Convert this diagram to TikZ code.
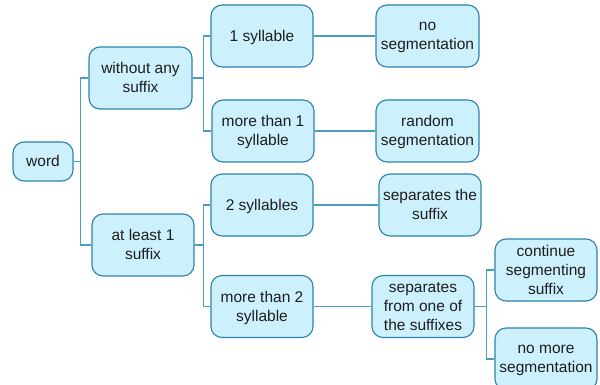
\documentclass[tikz,border=0pt]{standalone}
\usepackage{fontspec}
\setmainfont{Liberation Sans}
\definecolor{boxfill}{HTML}{CDF0FD}
\definecolor{boxdraw}{HTML}{2C82A8}
\definecolor{linecol}{HTML}{4A9CC0}
\definecolor{txt}{HTML}{1E1E1E}
\tikzset{
  bx/.style={draw=boxdraw, fill=boxfill, line width=1.1pt, rounded corners=11pt,
    align=center, text=txt, minimum width=102pt, minimum height=62pt, inner sep=2pt,
    font=\fontsize{15.5}{19}\selectfont, text depth=1pt},
  conn/.style={draw=linecol, line width=1.2pt}
}
\begin{document}
\begin{tikzpicture}[x=1pt,y=-1pt]
\useasboundingbox (0,0) rectangle (600,385);
\node[bx, minimum width=60pt, minimum height=39pt] (word) at (43,161.5) {word};
\node[bx, minimum width=103pt] (wo) at (140.5,78) {without any\\suffix};
\node[bx] (al) at (143,245) {at least 1\\suffix};
\node[bx] (s1) at (262,36) {1 syllable};
\node[bx] (m1) at (263,131) {more than 1\\syllable};
\node[bx] (s2) at (262,205) {2 syllables};
\node[bx] (m2) at (262,306.5) {more than 2\\syllable};
\node[bx, minimum width=103pt] (noseg) at (427.5,36) {no\\segmentation};
\node[bx, minimum width=103pt] (rand) at (427.5,131) {random\\segmentation};
\node[bx] (sep) at (430,205) {separates the\\suffix};
\node[bx] (from) at (423,306.5) {separates\\from one of\\the suffixes};
\node[bx] (cont) at (546,270) {continue\\segmenting\\suffix};
\node[bx] (nomore) at (546,359) {no more\\segmentation};

\draw[conn] (word.east) -- ++(7,0) |- (wo.west);
\draw[conn] (word.east) -- ++(7,0) |- (al.west);
\draw[conn] (wo.east) -- ++(11,0) |- (s1.west);
\draw[conn] (wo.east) -- ++(11,0) |- (m1.west);
\draw[conn] (al.east) -- ++(9,0) |- (s2.west);
\draw[conn] (al.east) -- ++(9,0) |- (m2.west);
\draw[conn] (s1.east) -- (noseg.west);
\draw[conn] (m1.east) -- (rand.west);
\draw[conn] (s2.east) -- (sep.west);
\draw[conn] (m2.east) -- (from.west);
\draw[conn] (from.east) -- ++(12,0) |- (cont.west);
\draw[conn] (from.east) -- ++(12,0) |- (nomore.west);
\end{tikzpicture}
\end{document}
